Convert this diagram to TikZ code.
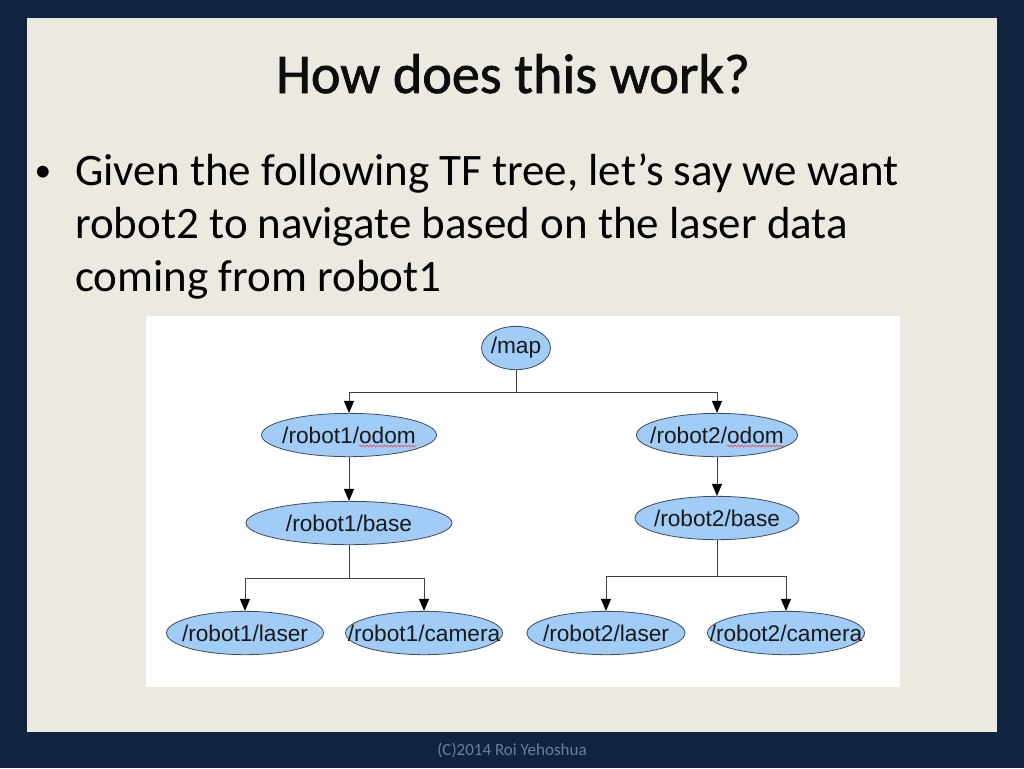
\documentclass[tikz,border=0pt]{standalone}
\usepackage{fontspec}
\setmainfont{Carlito}
\newfontfamily\titlefont[FakeBold=1.3]{Carlito}
\newfontfamily\arialfont{Liberation Sans}
\usepackage{xcolor}
\usepackage{tikz}
\usetikzlibrary{arrows.meta,positioning,calc,shapes.geometric,decorations.pathmorphing}

\definecolor{slidenavy}{HTML}{12233F}
\definecolor{slidepaper}{HTML}{ECE9E0}
\definecolor{framefill}{HTML}{A0CCF6}
\definecolor{framedraw}{HTML}{3C4B5E}
\definecolor{footgray}{HTML}{6E7E98}

\newcommand{\tflabel}[1]{\makebox[0pt]{#1}}

\begin{document}
\begin{tikzpicture}[
    x=0.75pt, y=-0.75pt,
    >={Triangle[length=9pt,width=7.5pt,color=black]},
    tf/.style={
        ellipse,
        draw=framedraw,
        line width=0.6pt,
        fill=framefill,
        inner sep=0pt,
        minimum height=32.5pt,
        text=black!90,
        font=\arialfont\fontsize{17}{19}\selectfont
    },
    bodytext/.style={
        anchor=base west,
        inner sep=0pt,
        font=\fontsize{33.75}{40}\selectfont
    },
    arr/.style={->, draw=black!75, line width=0.7pt},
    squig/.style={red!75, line width=0.4pt,
        decorate, decoration={snake, segment length=2.6pt, amplitude=0.7pt}}
]

% slide
\fill[slidenavy] (0,0) rectangle (1024,768);
\fill[slidepaper] (27,18) rectangle (997,732);
\fill[white] (146,316) rectangle (900,687);

\node[anchor=base, inner sep=0pt, text=black!95, font=\titlefont\fontsize{42}{50}\selectfont] (title)
    at (513,93) {How does this work?};

\node[anchor=base, inner sep=0pt, font=\fontsize{25}{30}\selectfont] (bullet) at (43,181) {•};
\node[bodytext] (line1) at (75,185) {Given the following TF tree, let’s say we want};
\node[bodytext] (line2) at (75,238) {robot2 to navigate based on the laser data};
\node[bodytext] (line3) at (75,291) {coming from robot1};

% tf tree
\node[tf, minimum width=51.75pt] (map) at (516,348) {\tflabel{/map}};

\node[tf, minimum width=131.25pt] (r1odom) at (349,435) {\tflabel{/robot1/odom}};
\node[tf, minimum width=120.75pt] (r2odom) at (717,435) {\tflabel{/robot2/odom}};

\node[tf, minimum width=154.5pt] (r1base) at (349,523) {\tflabel{/robot1/base}};
\node[tf, minimum width=123pt] (r2base) at (717,518) {\tflabel{/robot2/base}};

\node[tf, minimum width=117.75pt] (r1laser) at (245,633) {\tflabel{/robot1/laser}};
\node[tf, minimum width=117.75pt] (r1camera) at (424,633) {\tflabel{/robot1/camera}};
\node[tf, minimum width=118.5pt] (r2laser) at (606,633) {\tflabel{/robot2/laser}};
\node[tf, minimum width=117.75pt] (r2camera) at (786,633) {\tflabel{/robot2/camera}};

\draw[squig] ($(r1odom.center)+(10,11)$) -- ++(57,0);
\draw[squig] ($(r2odom.center)+(10,11)$) -- ++(57,0);

\draw[arr] (map.south) -- ++(0,22) -| (r1odom.north);
\draw[arr] (map.south) -- ++(0,22) -| (r2odom.north);
\draw[arr] (r1odom) -- (r1base);
\draw[arr] (r2odom) -- (r2base);
\draw[arr] (r1base.south) -- ++(0,33) -| (r1laser.north);
\draw[arr] (r1base.south) -- ++(0,33) -| (r1camera.north);
\draw[arr] (r2base.south) -- ++(0,36) -| (r2laser.north);
\draw[arr] (r2base.south) -- ++(0,36) -| (r2camera.north);

\node[anchor=base, inner sep=0pt, text=footgray, font=\fontsize{12.75}{15}\selectfont] (footer)
    at (512,755) {(C)2014 Roi Yehoshua};

\end{tikzpicture}
\end{document}
